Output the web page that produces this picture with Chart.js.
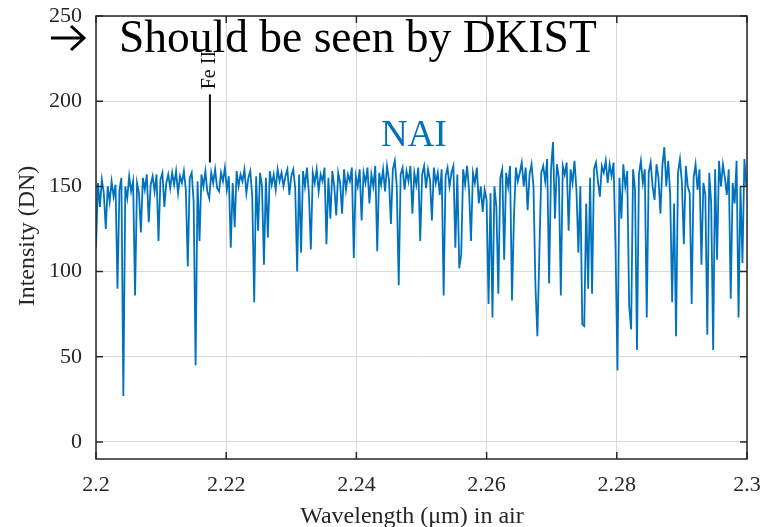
<!DOCTYPE html>
<html>
<head>
<meta charset="utf-8">
<script src="https://cdn.jsdelivr.net/npm/chart.js@4.4.1/dist/chart.umd.min.js"></script>
<style>
  body { margin: 0; background: #fff; }
  canvas { display: block; }
</style>
</head>
<body>
<canvas id="spec" width="763" height="527"></canvas>
<script>
// spectrum samples, evenly spaced in wavelength
const waveStart = 2.2
const waveStep = 0.0003
const intensity = [
  114,152,138,154,146,125,150,141,153,144,151,90,148,155,27,150,143,156,147,153,
  86,152,146,123,155,148,157,129,151,156,147,157,118,154,158,138,152,157,149,158,
  151,159,146,156,152,159,148,103,155,158,141,45,153,118,157,150,159,147,143,158,
  152,160,149,147,158,153,161,148,156,114,152,126,159,150,157,153,160,146,155,159,
  144,82,156,124,158,150,104,155,120,159,151,157,148,160,153,158,150,156,160,145,
  156,160,149,100,157,111,159,150,161,146,113,158,152,160,147,157,153,161,116,155,
  131,159,150,133,158,152,134,160,148,157,153,161,108,156,150,160,130,158,152,161,
  140,157,150,162,112,158,151,160,147,162,154,128,160,165,150,92,157,161,148,159,
  153,162,134,158,151,161,118,157,162,149,160,154,130,161,152,158,145,160,86,156,
  161,150,158,162,114,157,102,110,160,151,162,148,118,158,152,161,140,150,135,148,
  142,81,146,73,150,138,87,155,160,107,158,150,162,83,132,161,153,158,164,150,
  161,136,157,163,150,92,62,110,158,162,153,166,93,160,176,131,163,155,86,162,
  157,164,124,160,152,165,148,111,150,69,68,140,90,155,87,160,164,153,144,162,
  158,165,152,163,156,164,115,42,155,131,163,150,159,80,66,160,148,54,157,165,
  152,160,73,158,164,150,142,163,155,134,162,173,150,165,145,82,140,62,158,166,
  152,116,162,150,146,81,155,163,148,160,104,152,145,63,158,140,54,160,107,165,
  150,163,155,145,160,84,152,140,165,73,150,105,166,150
]
const xTicks = [2.2, 2.22, 2.24, 2.26, 2.28, 2.3]
const yTicks = [0, 50, 100, 150, 200, 250]
const xRange = [2.2, 2.3]
const yRange = [-10, 250]

const serif = "'Liberation Serif', 'Times New Roman', serif"
const blue = '#0072BD'
const ink = '#262626'

const points = intensity.map((v, i) => ({ x: waveStart + i * waveStep, y: v }))

// box, inward ticks, labels and notes
const decor = {
  id: 'decor',
  afterDatasetsDraw(chart) {
    const ctx = chart.ctx
    const a = chart.chartArea
    const xs = chart.scales.x, ys = chart.scales.y
    ctx.save()
    ctx.strokeStyle = ink
    ctx.lineWidth = 1.5
    ctx.strokeRect(a.left, a.top, a.right - a.left, a.bottom - a.top)
    ctx.beginPath()
    for (const t of xTicks) {
      const px = xs.getPixelForValue(t)
      ctx.moveTo(px, a.bottom); ctx.lineTo(px, a.bottom - 7)
      ctx.moveTo(px, a.top); ctx.lineTo(px, a.top + 7)
    }
    for (const t of yTicks) {
      const py = ys.getPixelForValue(t)
      ctx.moveTo(a.left, py); ctx.lineTo(a.left + 7, py)
      ctx.moveTo(a.right, py); ctx.lineTo(a.right - 7, py)
    }
    ctx.stroke()

    // Fe II marker
    const feX = xs.getPixelForValue(2.2175)
    ctx.lineWidth = 2
    ctx.strokeStyle = '#111'
    ctx.beginPath()
    ctx.moveTo(feX, ys.getPixelForValue(164))
    ctx.lineTo(feX, ys.getPixelForValue(204))
    ctx.stroke()
    ctx.save()
    ctx.translate(feX, ys.getPixelForValue(207))
    ctx.rotate(-Math.PI / 2)
    ctx.fillStyle = '#111'
    ctx.font = '20px ' + serif
    ctx.textAlign = 'left'
    ctx.textBaseline = 'middle'
    ctx.fillText('Fe II', 0, 0)
    ctx.restore()

    // NAI label
    ctx.fillStyle = blue
    ctx.font = '37px ' + serif
    ctx.textAlign = 'left'
    ctx.textBaseline = 'alphabetic'
    ctx.fillText('NAI', 381, 146)

    // axis titles
    ctx.fillStyle = ink
    ctx.font = '24px ' + serif
    ctx.textAlign = 'center'
    ctx.fillText('Wavelength (\u03bcm) in air', 412, 523)
    ctx.save()
    ctx.translate(34, 236)
    ctx.rotate(-Math.PI / 2)
    ctx.fillText('Intensity (DN)', 0, 0)
    ctx.restore()

    // headline with arrow
    ctx.strokeStyle = '#000'
    ctx.lineWidth = 3
    ctx.beginPath()
    ctx.moveTo(51, 38); ctx.lineTo(83, 38)
    ctx.moveTo(71, 26); ctx.lineTo(84, 38); ctx.lineTo(71, 50)
    ctx.stroke()
    ctx.fillStyle = '#000'
    ctx.font = '45.5px ' + serif
    ctx.textAlign = 'left'
    ctx.fillText('Should be seen by DKIST', 119, 52)
    ctx.restore()
  }
}

new Chart(document.getElementById('spec'), {
  type: 'line',
  data: {
    datasets: [{
      label: 'NAI',
      data: points,
      borderColor: blue,
      borderWidth: 1.8,
      pointRadius: 0,
      tension: 0,
      fill: false
    }]
  },
  options: {
    responsive: false,
    animation: false,
    devicePixelRatio: 1,
    layout: { padding: { top: 16, right: 16, left: 0, bottom: 0 } },
    plugins: { legend: { display: false }, tooltip: { enabled: false } },
    scales: {
      x: {
        type: 'linear',
        min: xRange[0], max: xRange[1],
        afterBuildTicks: s => { s.ticks = xTicks.map(v => ({ value: v })) },
        afterFit: s => { s.height = 527 - 459; s.paddingLeft = 0; s.paddingRight = 0 },
        grid: { color: '#dadada', lineWidth: 1, drawTicks: false },
        border: { display: false },
        ticks: {
          padding: 13,
          color: ink,
          font: { family: serif, size: 22 },
          maxRotation: 0,
          callback: v => String(Number(v.toFixed(2)))
        }
      },
      y: {
        min: yRange[0], max: yRange[1],
        afterBuildTicks: s => { s.ticks = yTicks.map(v => ({ value: v })) },
        afterFit: s => { s.width = 96; s.paddingTop = 0; s.paddingBottom = 0 },
        grid: { color: '#dadada', lineWidth: 1, drawTicks: false },
        border: { display: false },
        ticks: {
          padding: 14,
          color: ink,
          font: { family: serif, size: 22 }
        }
      }
    }
  },
  plugins: [decor]
})
</script>
</body>
</html>
